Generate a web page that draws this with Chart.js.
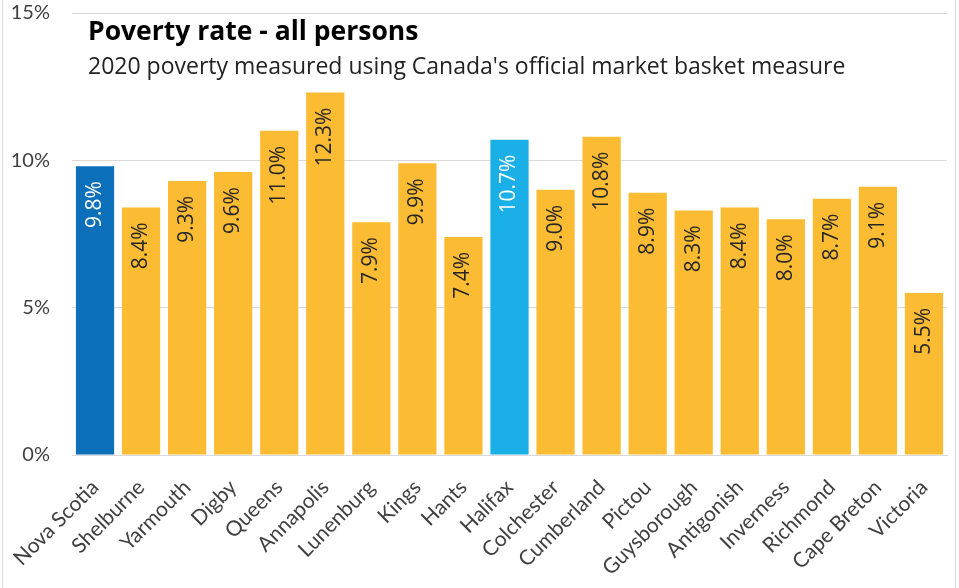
<!DOCTYPE html>
<html>
<head>
<meta charset="utf-8">
<script src="https://cdn.jsdelivr.net/npm/chart.js@4/dist/chart.umd.min.js"></script>
<style>
  html, body { margin: 0; padding: 0; background: #fff; overflow: hidden; }
  #frame { width: 959px; height: 588px; position: relative; overflow: hidden; }
  #wrap { width: 959px; height: 609px; position: absolute; left: 0; top: -21px; }
</style>
</head>
<body>
<div id="frame"><div id="wrap"><canvas id="chart"></canvas></div></div>
<script>
// Data
const regions = ['Nova Scotia', 'Shelburne', 'Yarmouth', 'Digby', 'Queens', 'Annapolis', 'Lunenburg', 'Kings', 'Hants', 'Halifax', 'Colchester', 'Cumberland', 'Pictou', 'Guysborough', 'Antigonish', 'Inverness', 'Richmond', 'Cape Breton', 'Victoria'];
const povertyRate = [9.8, 8.4, 9.3, 9.6, 11.0, 12.3, 7.9, 9.9, 7.4, 10.7, 9.0, 10.8, 8.9, 8.3, 8.4, 8.0, 8.7, 9.1, 5.5];
const yTicks = [0, 5, 10, 15];

const chartTitle = 'Poverty rate - all persons';
const chartSubtitle = "2020 poverty measured using Canada's official market basket measure";

const FONT = 'Lato, "Open Sans", sans-serif';
const TEXT_FONT = '"Open Sans", sans-serif';
const SHIFT = 21; // canvas is moved up by this much (see CSS)

// Colours: province and Halifax stand out
const barColors = regions.map(r => {
    if (r === 'Nova Scotia') return '#0b6fb9';
    if (r === 'Halifax') return '#1aafe6';
    return '#fbbc33';
});

// Frame, title and subtitle
const framePlugin = {
    id: 'frame',
    afterDraw(chart) {
        const ctx = chart.ctx;
        ctx.save();
        ctx.strokeStyle = '#d9d9d9';
        ctx.lineWidth = 1;
        ctx.beginPath();
        ctx.moveTo(2.5, 0);
        ctx.lineTo(2.5, 620);
        ctx.moveTo(955.5, 0);
        ctx.lineTo(955.5, 620);
        ctx.stroke();

        ctx.fillStyle = '#000';
        ctx.textBaseline = 'alphabetic';
        ctx.textAlign = 'left';
        ctx.font = 'bold 26.5px ' + TEXT_FONT;
        ctx.fillText(chartTitle, 88, 40 + SHIFT);
        ctx.fillStyle = '#222';
        ctx.font = '23px ' + TEXT_FONT;
        ctx.fillText(chartSubtitle, 88, 74 + SHIFT);
        ctx.restore();
    }
};

// Rotated value labels inside the top of each bar
const valueLabels = {
    id: 'valueLabels',
    afterDatasetsDraw(chart) {
        const ctx = chart.ctx;
        const meta = chart.getDatasetMeta(0);
        ctx.save();
        ctx.font = '21px ' + TEXT_FONT;
        meta.data.forEach((bar, i) => {
            const r = regions[i];
            ctx.fillStyle = (r === 'Nova Scotia' || r === 'Halifax') ? '#ffffff' : '#262626';
            ctx.save();
            ctx.translate(bar.x, bar.y + 15);
            ctx.rotate(-Math.PI / 2);
            ctx.textAlign = 'right';
            ctx.textBaseline = 'middle';
            ctx.fillText(povertyRate[i].toFixed(1) + '%', 0, 0);
            ctx.restore();
        });
        ctx.restore();
    }
};

const ctx = document.getElementById('chart').getContext('2d');
new Chart(ctx, {
    type: 'bar',
    data: {
        labels: regions,
        datasets: [{
            data: povertyRate,
            backgroundColor: barColors,
            borderWidth: 0,
            barPercentage: 0.83,
            categoryPercentage: 1.0
        }]
    },
    options: {
        responsive: true,
        maintainAspectRatio: false,
        animation: false,
        layout: { padding: { top: 0, right: 12, left: 0, bottom: 0 } },
        plugins: {
            legend: { display: false },
            tooltip: { enabled: false }
        },
        scales: {
            x: {
                grid: { display: false, drawTicks: false },
                border: { display: true, color: '#d9d9d9' },
                ticks: {
                    color: '#404040',
                    font: { family: FONT, size: 21 },
                    maxRotation: 45,
                    minRotation: 45,
                    padding: 20,
                    autoSkip: false
                },
                afterFit(scale) {
                    scale.height = 133;
                    scale.paddingLeft = 0;
                    scale.paddingRight = 0;
                }
            },
            y: {
                min: 0,
                max: 15,
                afterBuildTicks(scale) {
                    scale.ticks = yTicks.map(v => ({ value: v }));
                },
                grid: { color: '#d9d9d9', drawTicks: false },
                border: { display: false },
                ticks: {
                    color: '#404040',
                    font: { family: FONT, size: 20 },
                    padding: 22,
                    callback: v => v + '%'
                },
                afterFit(scale) { scale.width = 72; }
            }
        }
    },
    plugins: [framePlugin, valueLabels]
});
</script>
</body>
</html>
